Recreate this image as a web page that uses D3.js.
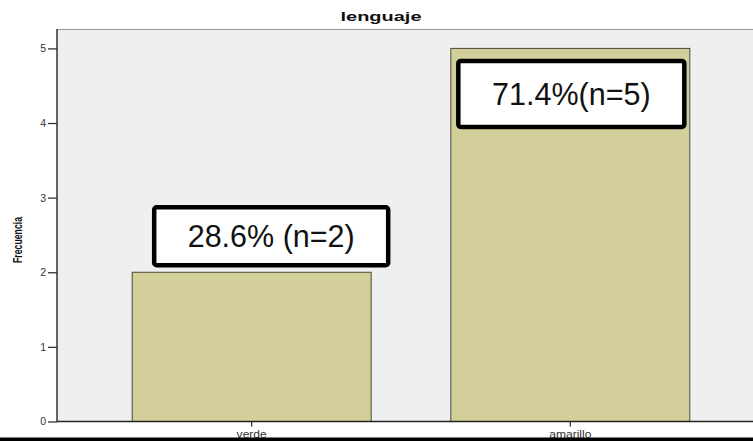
<!DOCTYPE html>
<html>
<head>
<meta charset="utf-8">
<script src="https://cdn.jsdelivr.net/npm/d3@7"></script>
<style>
html,body{margin:0;padding:0;background:#fff;}
svg{display:block;}
text{font-family:"Liberation Sans",Arial,sans-serif;}
</style>
</head>
<body>
<div id="chart"></div>
<script>
const categories = ["verde", "amarillo"];
const counts = [2, 5];
const percentLabels = ["28.6% (n=2)", "71.4%(n=5)"];
const yTicks = [0, 1, 2, 3, 4, 5];
const chartTitle = "lenguaje";
const yAxisTitle = "Frecuencia";

const W = 753, H = 441;
const plot = {left: 57, right: 765, top: 29, bottom: 421.5};

const svg = d3.select("#chart").append("svg").attr("width", W).attr("height", H);

const x = d3.scaleBand().domain(categories).range([plot.left, plot.right])
  .paddingInner(0.25).paddingOuter(0.236);
const y = d3.scaleLinear().domain([0, 5.26]).range([plot.bottom, plot.top]);

// plot background
svg.append("rect").attr("x", plot.left).attr("y", plot.top)
  .attr("width", plot.right - plot.left).attr("height", plot.bottom - plot.top)
  .attr("fill", "#efefef");
svg.append("line").attr("x1", plot.left).attr("x2", W).attr("y1", plot.top + 0.5).attr("y2", plot.top + 0.5)
  .attr("stroke", "#9a9a9a").attr("stroke-width", 1.2);

// bars
svg.selectAll("rect.bar").data(categories).enter().append("rect")
  .attr("class", "bar")
  .attr("x", d => x(d))
  .attr("y", (d, i) => y(counts[i]))
  .attr("width", x.bandwidth())
  .attr("height", (d, i) => y(0) - y(counts[i]))
  .attr("fill", "#d3cf9a")
  .attr("stroke", "#4a4a3a")
  .attr("stroke-width", 1);

// y axis
const yAxis = d3.axisLeft(y).tickValues(yTicks).tickSize(9).tickPadding(2).tickFormat(d3.format("d"));
const gy = svg.append("g").attr("transform", `translate(${plot.left},0)`).call(yAxis);
gy.select(".domain").attr("stroke", "#333").attr("stroke-width", 1.5).attr("d", `M0,${plot.bottom}V${plot.top}`);
gy.selectAll(".tick line").attr("stroke", "#333").attr("stroke-width", 1.3);
gy.selectAll(".tick text").attr("font-size", 10.5).attr("fill", "#333")
  .attr("font-family", '"Liberation Sans",Arial,sans-serif');

// x axis
const xAxis = d3.axisBottom(x).tickSize(5).tickPadding(4);
const gx = svg.append("g").attr("transform", `translate(0,${plot.bottom})`).call(xAxis);
gx.select(".domain").attr("stroke", "#222").attr("stroke-width", 1.5).attr("d", `M${plot.left},0H${W}`);
gx.selectAll(".tick line").attr("stroke", "#333").attr("stroke-width", 1.3);
gx.selectAll(".tick text").attr("font-size", 10.5).attr("fill", "#333")
  .attr("font-family", '"Liberation Sans",Arial,sans-serif')
  .attr("transform", "scale(1.15,1)");

// title
svg.append("text").attr("x", 381).attr("y", 21).attr("text-anchor", "middle")
  .attr("font-size", 13.5).attr("font-weight", "bold").attr("fill", "#111")
  .attr("textLength", 81).attr("lengthAdjust", "spacingAndGlyphs")
  .text(chartTitle);

// y axis title
svg.append("text").attr("transform", "translate(22,240) rotate(-90)")
  .attr("text-anchor", "middle").attr("font-size", 13).attr("font-weight", "bold").attr("fill", "#111")
  .attr("textLength", 46).attr("lengthAdjust", "spacingAndGlyphs")
  .text(yAxisTitle);

// annotation boxes (anchored on bar positions)
const boxLayout = [
  {dx: 19.5, topOffset: -65, w: 234, h: 58},
  {dx: 1, topOffset: 12.5, w: 226, h: 66}
];
categories.forEach((c, i) => {
  const b = boxLayout[i];
  const cx = x(c) + x.bandwidth() / 2 + b.dx;
  const top = y(counts[i]) + b.topOffset;
  svg.append("rect").attr("x", cx - b.w / 2).attr("y", top).attr("width", b.w).attr("height", b.h)
    .attr("rx", 2.5).attr("fill", "#fff").attr("stroke", "#000").attr("stroke-width", 4.5);
  svg.append("text").attr("x", cx).attr("y", top + b.h / 2 + 11)
    .attr("text-anchor", "middle").attr("font-size", 30.5).attr("fill", "#111")
    .text(percentLabels[i]);
});

// bottom black band
svg.append("rect").attr("x", 0).attr("y", 437.5).attr("width", W).attr("height", H - 437.5).attr("fill", "#000");
</script>
</body>
</html>
